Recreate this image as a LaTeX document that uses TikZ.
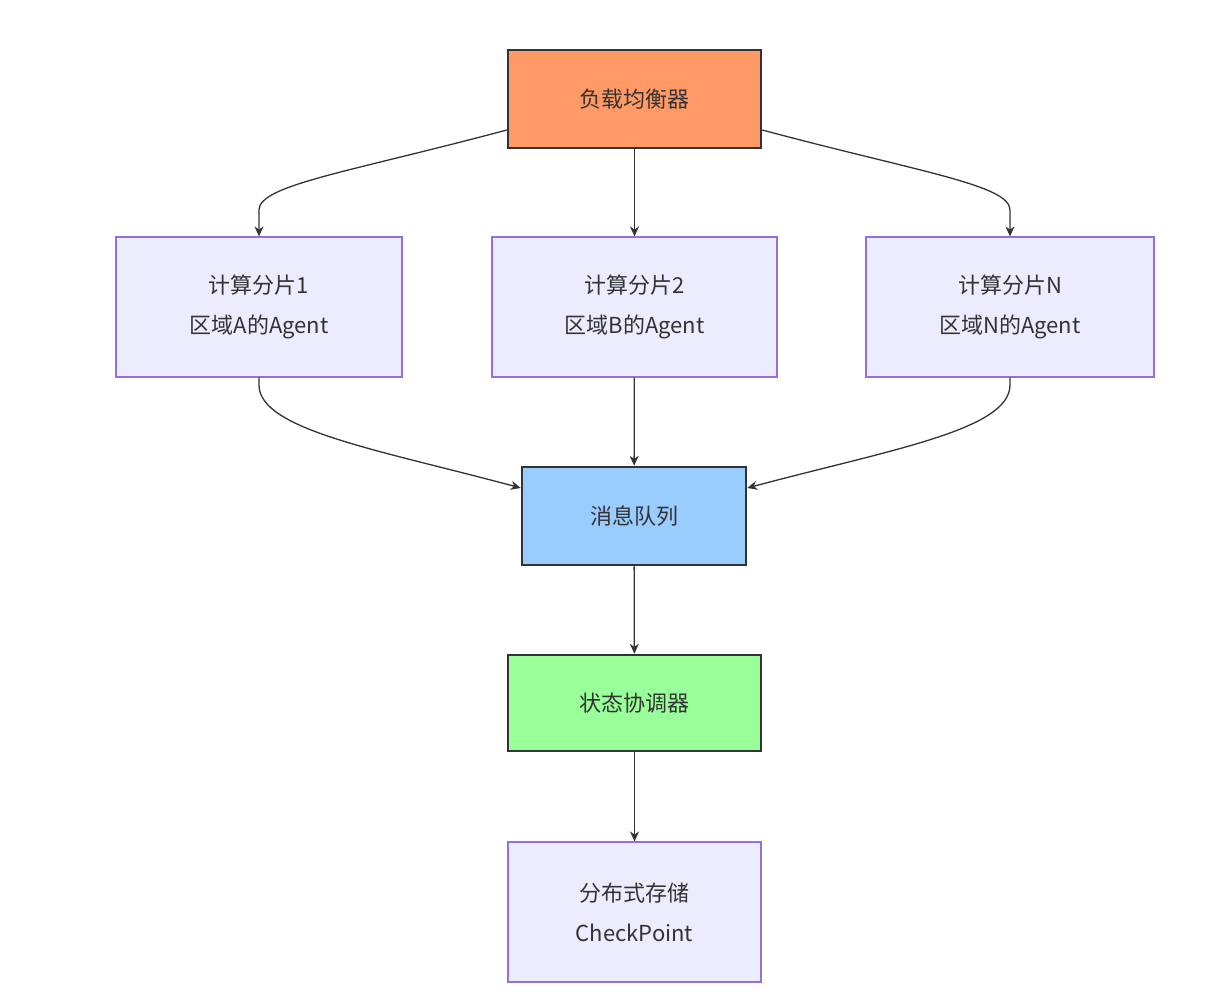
\documentclass[tikz,border=0pt]{standalone}
\usepackage{fontspec}
\setmainfont{Noto Sans CJK SC}
\usetikzlibrary{arrows.meta}
\definecolor{edge}{HTML}{333333}
\definecolor{lav}{HTML}{ECECFF}
\definecolor{lavb}{HTML}{9370DB}
\begin{document}
\begin{tikzpicture}[x=1pt,y=-1pt,
  box/.style={draw=lavb,fill=lav,line width=1.2pt,minimum width=#1,align=center,inner sep=0pt,font=\fontsize{22}{40}\selectfont,text=edge},
  hbox/.style={draw=edge,line width=2.5pt,minimum width=#1,align=center,inner sep=0pt,font=\fontsize{22}{40}\selectfont,text=edge},
  conn/.style={draw=edge,line width=1.3pt,-{Stealth[length=10pt,width=9pt]}}]
\useasboundingbox (0,0) rectangle (1216,1008);
\node[hbox=253pt,minimum height=98pt,fill={rgb,255:red,255;green,153;blue,102}] (lb) at (634.5,99) {负载均衡器};
\node[box=286pt,minimum height=140pt] (a1) at (259,307) {计算分片1\\区域A的Agent};
\node[box=285pt,minimum height=140pt] (a2) at (634.5,307) {计算分片2\\区域B的Agent};
\node[box=288pt,minimum height=140pt] (an) at (1010,307) {计算分片N\\区域N的Agent};
\node[hbox=224pt,minimum height=98pt,fill={rgb,255:red,153;green,204;blue,255}] (mq) at (634,516) {消息队列};
\node[hbox=253pt,minimum height=96pt,fill={rgb,255:red,153;green,255;blue,153}] (sc) at (634.5,703) {状态协调器};
\node[box=253pt,minimum height=140pt] (ds) at (634.5,912) {分布式存储\\CheckPoint};
\draw[conn] (lb.west |- 0,130) .. controls (350,172) and (259,185) .. (259,210) -- (a1.north);
\draw[conn] (lb.east |- 0,130) .. controls (919,172) and (1010,185) .. (1010,210) -- (an.north);
\draw[conn] (lb) -- (a2);
\draw[conn] (a1.south) -- (259,385) .. controls (259,430) and (380,450) .. (mq.west |- 0,488);
\draw[conn] (an.south) -- (1010,385) .. controls (1010,430) and (889,450) .. (mq.east |- 0,488);
\draw[conn] (a2) -- (mq);
\draw[conn] (mq) -- (sc);
\draw[conn] (sc) -- (ds);
\end{tikzpicture}
\end{document}
